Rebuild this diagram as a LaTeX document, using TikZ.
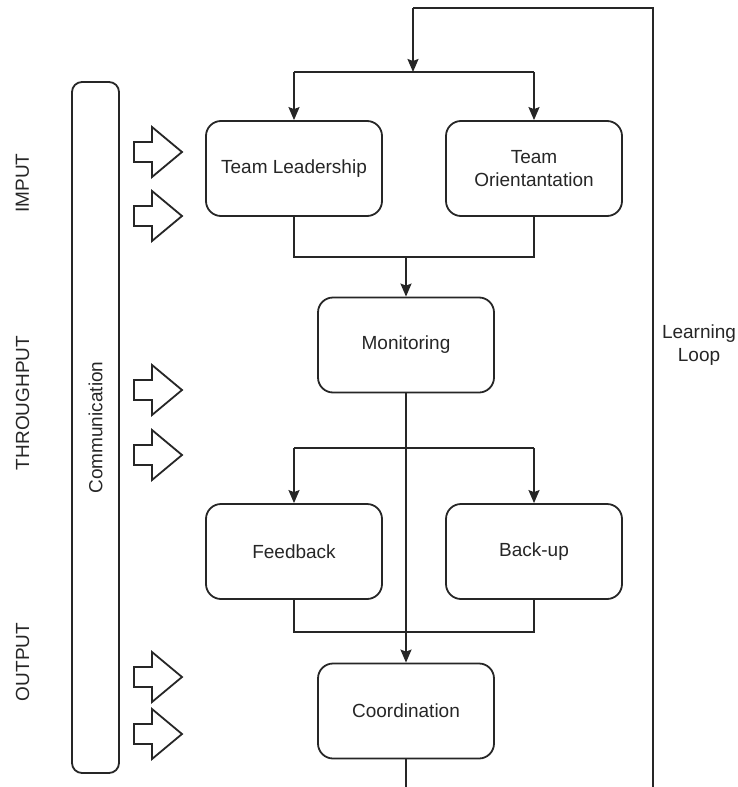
\documentclass[tikz,border=0pt]{standalone}
\usepackage{fontspec}
\setmainfont{Liberation Sans}
\usetikzlibrary{arrows.meta}
\begin{document}
\begin{tikzpicture}[x=1pt,y=-1pt,
  every node/.style={font=\fontsize{19}{23.5}\selectfont, text=black!85},
  proc/.style={draw=black!85, line width=1.8pt, rounded corners=15pt, minimum width=176pt, minimum height=95pt, inner sep=0pt, align=center},
  conn/.style={draw=black!85, line width=1.8pt},
  arr/.style={conn, -{Stealth[length=13pt,width=11pt,inset=2pt]}},
  blockarr/.style={draw=black!85, line width=1.8pt, fill=white, line join=miter},
  sidelabel/.style={rotate=90, inner sep=0pt}]
\useasboundingbox (0,0) rectangle (737,787);

% communication bar
\node[draw=black!85, line width=1.8pt, rounded corners=10pt, minimum width=47pt, minimum height=691pt, inner sep=0pt] (comm) at (95.5,427.5) {};
\node[sidelabel] (commtxt) at (comm.center) {Communication};

% phase labels
\node[sidelabel] (imput) at (22.5,183) {IMPUT};
\node[sidelabel] (through) at (22.5,403) {THROUGHPUT};
\node[sidelabel] (output) at (22.5,662) {OUTPUT};

% block arrows
\foreach \y in {152,216,390,455,677,734}{
  \draw[blockarr] (134,\y-10) -- (152,\y-10) -- (152,\y-25) -- (182,\y) -- (152,\y+25) -- (152,\y+10) -- (134,\y+10) -- cycle;
}

% process boxes
\node[proc] (tl) at (294,168.5) {Team Leadership};
\node[proc] (to) at (534,168.5) {Team\\Orientantation};
\node[proc] (mon) at (406,345) {Monitoring};
\node[proc] (fb) at (294,551.5) {Feedback};
\node[proc] (bu) at (534,551.5) {Back-up};
\node[proc] (co) at (406,711) {Coordination};

\node[align=center, inner sep=0pt] (loop) at (699,345) {Learning\\Loop};

% coordinates
\coordinate (topL) at (294,72);
\coordinate (topR) at (534,72);
\coordinate (topM) at (413,72);
\coordinate (loopTop) at (413,8);
\coordinate (loopBot) at (653,787);
\coordinate (coBot) at (406,787);
\coordinate (joinL) at (294,257);
\coordinate (joinR) at (534,257);
\coordinate (joinM) at (406,257);
\coordinate (brL) at (294,448);
\coordinate (brR) at (534,448);
\coordinate (fbL) at (294,632);
\coordinate (fbR) at (534,632);

% learning loop
\draw[conn] (co.south) -- (coBot);
\draw[conn] (loopBot) |- (loopTop);
\draw[arr] (loopTop) -- (topM);
\draw[conn] (topL) -- (topR);
\draw[arr] (topL) -- (tl.north);
\draw[arr] (topR) -- (to.north);

% merge to monitoring
\draw[conn] (tl.south) -- (joinL) -- (joinR) -- (to.south);
\draw[arr] (joinM) -- (mon.north);

% monitoring to coordination and branches
\draw[arr] (mon.south) -- (co.north);
\draw[conn] (brL) -- (brR);
\draw[arr] (brL) -- (fb.north);
\draw[arr] (brR) -- (bu.north);
\draw[conn] (fb.south) -- (fbL) -- (fbR) -- (bu.south);
\end{tikzpicture}
\end{document}
